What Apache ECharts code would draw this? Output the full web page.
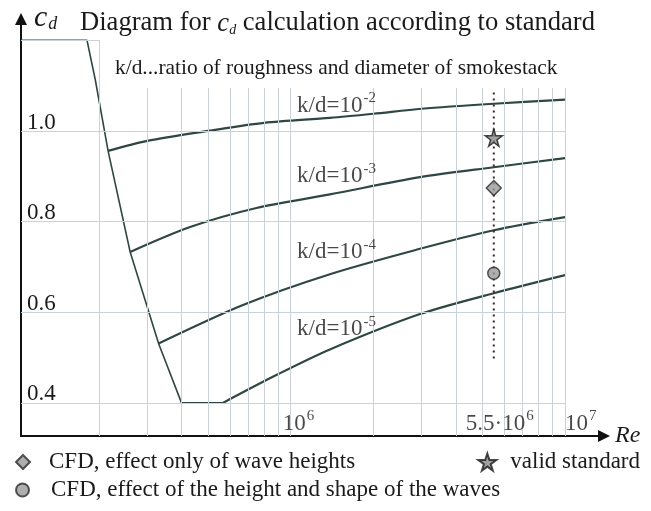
<!DOCTYPE html>
<html>
<head>
<meta charset="utf-8">
<script src="https://cdn.jsdelivr.net/npm/echarts@6/dist/echarts.min.js"></script>
<style>
  html, body { margin: 0; padding: 0; background: #fff; }
  #chart { width: 651px; height: 511px; }
</style>
</head>
<body>
<div id="chart"></div>
<script>
// axis extents (Re is logarithmic)
const xMin = 1.04e5
const xMax = 1.387e7
const yMin = 0.327
const yMax = 1.247

// grid lines
const gridRe = [2e5, 3e5, 4e5, 5e5, 6e5, 7e5, 8e5, 9e5, 1e6, 2e6, 3e6, 4e6, 5e6, 6e6, 7e6, 8e6, 9e6, 1e7]
const gridCd = [0.4, 0.6, 0.8, 1.0, 1.2]
const yTickLabels = ['0.4', '0.6', '0.8', '1.0', '']
const xTickRe = [1e6, 5.5e6, 1e7]
const xTickLabels = ['{m|10}{s|6}', '{m|5.5·10}{s|6}', '{m|10}{s|7}']

// envelope (subcritical plateau + drop)
const envRe = [xMin, 1.81e5, 1.94e5, 2.16e5, 2.6e5, 3.3e5, 4e5, 5.66e5]
const envCd = [1.2, 1.2, 1.113, 0.956, 0.733, 0.531, 0.4, 0.4]

// k/d curves
const kd2Re = [2.16e5, 3e5, 5e5, 8e5, 1.39e6, 2e6, 3e6, 5.5e6, 1e7]
const kd2Cd = [0.956, 0.978, 1.0, 1.018, 1.029, 1.038, 1.049, 1.06, 1.069]
const kd3Re = [2.6e5, 4.3e5, 7.5e5, 1.39e6, 2.96e6, 5.5e6, 1e7]
const kd3Cd = [0.733, 0.788, 0.83, 0.86, 0.898, 0.92, 0.94]
const kd4Re = [3.3e5, 6.7e5, 1.39e6, 2.96e6, 5.5e6, 1e7]
const kd4Cd = [0.531, 0.616, 0.684, 0.74, 0.781, 0.81]
const kd5Re = [5.66e5, 8.9e5, 1.39e6, 2.96e6, 5.5e6, 1e7]
const kd5Cd = [0.4, 0.462, 0.518, 0.596, 0.642, 0.682]
const kdLabels = ['{m|k/d=10}{s|-2}', '{m|k/d=10}{s|-3}', '{m|k/d=10}{s|-4}', '{m|k/d=10}{s|-5}']
const kdLabelRe = [1.055e6, 1.055e6, 1.055e6, 1.055e6]
const kdLabelCd = [1.055, 0.899, 0.731, 0.561]

// CFD / standard at Re = 5.5e6
const pointRe = 5.5e6
const starCd = 0.985
const diamondCd = 0.874
const circleCd = 0.686
const guideCd = [1.085, 0.49]

const serif = 'Liberation Serif'
const ink = '#1a1a1a'
const curveColor = '#2f4744'
const gridColor = '#c9d1d9'
const starPath = 'path://M50,0 L61,35 L98,35 L68,57 L79,91 L50,70 L21,91 L32,57 L2,35 L39,35 Z'

const zip = (a, b) => a.map((v, i) => [v, b[i]])

const supRich = {
  m: { fontFamily: serif, fontSize: 23, color: ink },
  s: { fontFamily: serif, fontSize: 15, color: ink, verticalAlign: 'bottom', padding: [0, 0, 14, 1] },
}

const gridLines = []
gridRe.forEach(r => {
  gridLines.push([{ coord: [r, yMin] }, { coord: [r, 1.2] }])
})
gridCd.forEach((c, i) => {
  gridLines.push([
    {
      coord: [xMin, c],
      name: yTickLabels[i],
      label: { show: yTickLabels[i] !== '' },
    },
    { coord: [1e7, c] },
  ])
})

function curve(name, re, cd, width, smooth) {
  return {
    name: name,
    type: 'line',
    data: zip(re, cd),
    showSymbol: false,
    silent: true,
    smooth: smooth,
    z: 3,
    lineStyle: { color: curveColor, width: width },
  }
}

function legendItem(name, pos, size, gap) {
  return Object.assign({
    padding: 0,
    itemWidth: size,
    itemHeight: size,
    selectedMode: false,
    data: [name],
    textStyle: { fontFamily: serif, fontSize: 23, color: ink, lineHeight: 24, padding: [0, 0, 0, gap] },
  }, pos)
}

const chart = echarts.init(document.getElementById('chart'))
chart.setOption({
  backgroundColor: '#fff',
  animation: false,
  title: [
    {
      text: '{c|c}{d|d}',
      left: 34,
      top: 3,
      padding: 0,
      textStyle: {
        fontWeight: 'normal',
        rich: {
          c: { fontFamily: serif, fontStyle: 'italic', fontWeight: 'normal', fontSize: 30, color: ink },
          d: { fontFamily: serif, fontStyle: 'italic', fontWeight: 'normal', fontSize: 18, color: ink, verticalAlign: 'bottom', padding: [0, 0, 0, 1] },
        },
      },
    },
    {
      text: '{t|Diagram for }{c|c}{d|d}{t| calculation according to standard}',
      left: 80,
      top: 10,
      padding: 0,
      textStyle: {
        fontWeight: 'normal',
        rich: {
          t: { fontFamily: serif, fontWeight: 'normal', fontSize: 26.6, color: ink },
          c: { fontFamily: serif, fontStyle: 'italic', fontWeight: 'normal', fontSize: 26.6, color: ink },
          d: { fontFamily: serif, fontStyle: 'italic', fontWeight: 'normal', fontSize: 14, color: ink, verticalAlign: 'bottom' },
        },
      },
    },
    {
      text: 'k/d...ratio of roughness and diameter of smokestack',
      left: 100,
      top: 40,
      padding: [18, 10, 9, 15],
      backgroundColor: '#fff',
      textStyle: { fontFamily: serif, fontSize: 21.4, fontWeight: 'normal', color: ink },
    },
  ],
  legend: [
    legendItem('CFD, effect only of wave heights', { left: 15, top: 450 }, 14, 14),
    legendItem('CFD, effect of the height and shape of the waves', { left: 15, top: 478 }, 13, 17),
    legendItem('valid standard', { right: 11, top: 450 }, 18, 9),
  ],
  grid: { left: 21, right: 47, top: 19, bottom: 75 },
  xAxis: {
    type: 'log',
    logBase: 10,
    min: xMin,
    max: xMax,
    name: 'Re',
    nameLocation: 'end',
    nameGap: 11,
    nameTextStyle: { fontFamily: serif, fontStyle: 'italic', fontSize: 24, color: ink },
    axisLine: { show: true, symbol: ['none', 'triangle'], symbolSize: [12, 12], lineStyle: { color: '#111', width: 2 } },
    axisTick: { show: false },
    axisLabel: { show: false },
    splitLine: { show: false },
  },
  yAxis: {
    type: 'value',
    min: yMin,
    max: yMax,
    axisLine: { show: true, symbol: ['none', 'triangle'], symbolSize: [12, 12], lineStyle: { color: '#111', width: 2 } },
    axisTick: { show: false },
    axisLabel: { show: false },
    splitLine: { show: false },
  },
  series: [
    {
      name: 'grid',
      type: 'line',
      data: [[xMin, yMin]],
      showSymbol: false,
      silent: true,
      z: 1,
      lineStyle: { width: 0 },
      markLine: {
        silent: true,
        symbol: ['none', 'none'],
        animation: false,
        lineStyle: { color: gridColor, width: 1, type: 'solid' },
        label: {
          show: false,
          position: 'insideStartTop',
          distance: [6, -3],
          formatter: '{b}',
          fontFamily: serif,
          fontSize: 23,
          color: ink,
        },
        emphasis: { disabled: true },
        data: gridLines,
      },
    },
    curve('envelope', envRe, envCd, 1.6, false),
    curve('k/d=1e-2', kd2Re, kd2Cd, 2.2, 0.3),
    curve('k/d=1e-3', kd3Re, kd3Cd, 2.2, 0.3),
    curve('k/d=1e-4', kd4Re, kd4Cd, 2.2, 0.3),
    curve('k/d=1e-5', kd5Re, kd5Cd, 2.2, 0.3),
    {
      name: 'guide',
      type: 'line',
      data: guideCd.map(c => [pointRe, c]),
      showSymbol: false,
      silent: true,
      z: 4,
      lineStyle: { color: '#3a2626', width: 2, type: [2, 4] },
    },
    {
      name: 'curve labels',
      type: 'scatter',
      symbolSize: 0,
      silent: true,
      z: 6,
      data: kdLabels.map((t, i) => ({ name: t, value: [kdLabelRe[i], kdLabelCd[i]] })),
      label: { show: true, position: [0, -15], formatter: '{b}', rich: supRich },
    },
    {
      name: 'x tick labels',
      type: 'scatter',
      symbolSize: 0,
      silent: true,
      z: 6,
      data: xTickLabels.map((t, i) => ({
        name: t,
        value: [xTickRe[i], yMin],
        label: { position: [[-8, -27], [-28, -27], [0, -27]][i] },
      })),
      label: { show: true, formatter: '{b}', rich: supRich },
    },
    {
      name: 'valid standard',
      type: 'scatter',
      data: [[pointRe, starCd]],
      symbol: starPath,
      symbolSize: 17,
      z: 5,
      itemStyle: { color: '#8a8a8a', borderColor: '#1a1a1a', borderWidth: 1.5 },
    },
    {
      name: 'CFD, effect only of wave heights',
      type: 'scatter',
      data: [[pointRe, diamondCd]],
      symbol: 'diamond',
      symbolSize: 15,
      z: 5,
      itemStyle: { color: '#9a9a9a', borderColor: '#2a2a2a', borderWidth: 1.5 },
    },
    {
      name: 'CFD, effect of the height and shape of the waves',
      type: 'scatter',
      data: [[pointRe, circleCd]],
      symbol: 'circle',
      symbolSize: 12,
      z: 5,
      itemStyle: { color: '#9a9a9a', borderColor: '#2a2a2a', borderWidth: 1.5 },
    },
  ],
})
</script>
</body>
</html>
